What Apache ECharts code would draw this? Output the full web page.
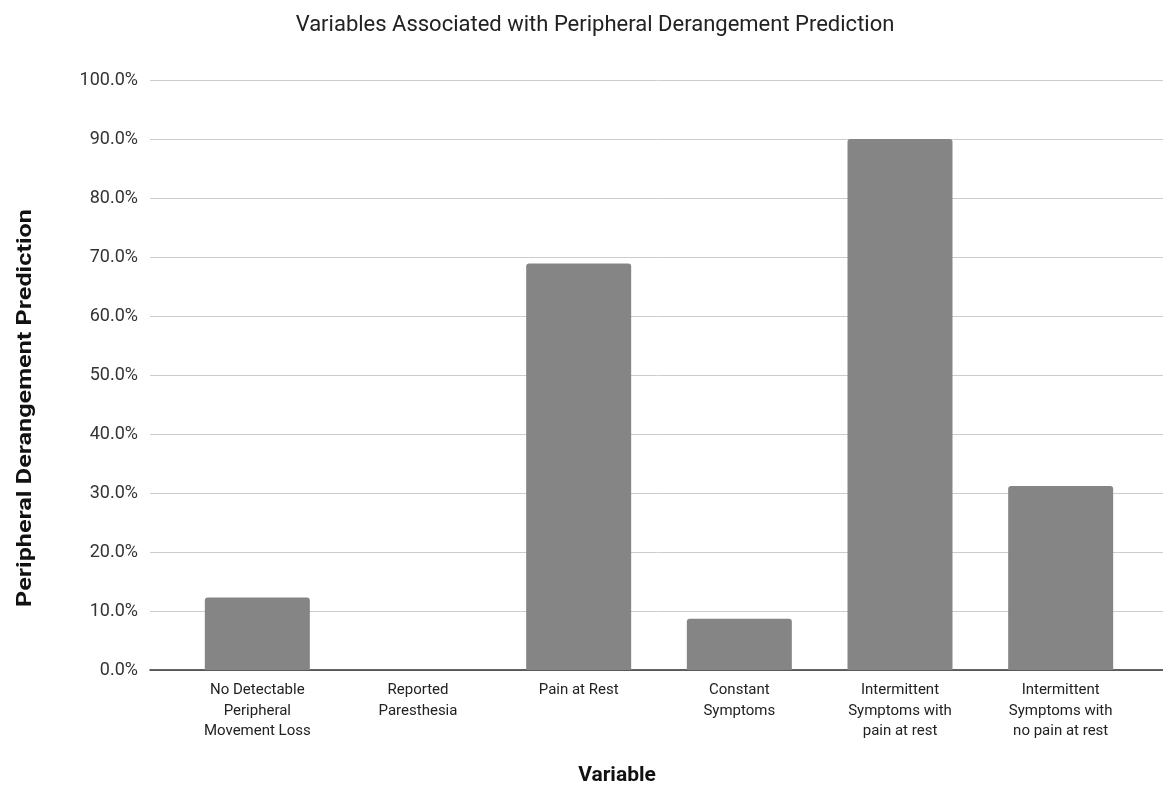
<!DOCTYPE html>
<html>
<head>
<meta charset="utf-8">
<title>Peripheral Derangement Prediction</title>
<script src="https://cdn.jsdelivr.net/npm/echarts@6/dist/echarts.min.js"></script>
<style>
  html, body { margin: 0; padding: 0; background: #fff; }
  #chart { width: 1163px; height: 811px; }
</style>
</head>
<body>
<div id="chart"></div>
<script>
// categories (tick labels, wrapped as in the reference)
const categories = [
  'No Detectable\nPeripheral\nMovement Loss',
  'Reported\nParesthesia',
  'Pain at Rest',
  'Constant\nSymptoms',
  'Intermittent\nSymptoms with\npain at rest',
  'Intermittent\nSymptoms with\nno pain at rest'
];
// prediction, percent
const prediction = [12.3, 0, 68.9, 8.7, 90.0, 31.2];
const yTicks = { min: 0, max: 100, step: 10 };

const font = 'Roboto, "Noto Sans", sans-serif';
const chart = echarts.init(document.getElementById('chart'));

const option = {
  animation: false,
  backgroundColor: '#fff',
  title: {
    text: 'Variables Associated with Peripheral Derangement Prediction',
    left: 590,
    textAlign: 'center',
    top: 9,
    textStyle: { fontFamily: font, fontSize: 22, fontWeight: 'normal', color: '#222' }
  },
  grid: [
    // frame for gridlines / y labels (runs wider than the bars)
    { left: 150, right: 0, top: 80, bottom: 141 },
    // bar area
    { left: 177, right: 22, top: 80, bottom: 141 }
  ],
  xAxis: [
    {
      gridIndex: 0, type: 'value', min: 0, max: 1,
      axisLine: { show: true, lineStyle: { color: '#333', width: 1.5 } },
      axisTick: { show: false }, axisLabel: { show: false }, splitLine: { show: false }
    },
    {
      gridIndex: 1, type: 'category', data: categories,
      axisLine: { show: false }, axisTick: { show: false },
      axisLabel: {
        interval: 0, margin: 10, fontFamily: font, fontSize: 15, lineHeight: 20.5,
        color: '#222', align: 'center', verticalAlign: 'top'
      }
    }
  ],
  yAxis: [
    {
      gridIndex: 0, type: 'value', min: yTicks.min, max: yTicks.max, interval: yTicks.step,
      axisLine: { show: false }, axisTick: { show: false },
      axisLabel: {
        margin: 12, fontFamily: font, fontSize: 18, color: '#333',
        formatter: v => v.toFixed(1) + '%'
      },
      splitLine: { lineStyle: { color: '#ccc', width: 1 } }
    },
    {
      gridIndex: 1, type: 'value', min: yTicks.min, max: yTicks.max, interval: yTicks.step,
      show: false, splitLine: { show: false }
    }
  ],
  graphic: [
    {
      type: 'text', x: 26, y: 408, rotation: Math.PI / 2, scaleX: 1.2,
      style: {
        text: 'Peripheral Derangement Prediction', align: 'center', verticalAlign: 'middle',
        font: 'bold 21px ' + font, fill: '#111'
      }
    },
    {
      type: 'text', x: 617, y: 776,
      style: {
        text: 'Variable', align: 'center', verticalAlign: 'middle',
        font: 'bold 21px ' + font, fill: '#111'
      }
    }
  ],
  series: [
    {
      type: 'bar', xAxisIndex: 1, yAxisIndex: 1, data: prediction,
      barWidth: 105,
      itemStyle: { color: '#858585', borderRadius: [3, 3, 0, 0] }
    }
  ]
};

chart.setOption(option);
</script>
</body>
</html>
